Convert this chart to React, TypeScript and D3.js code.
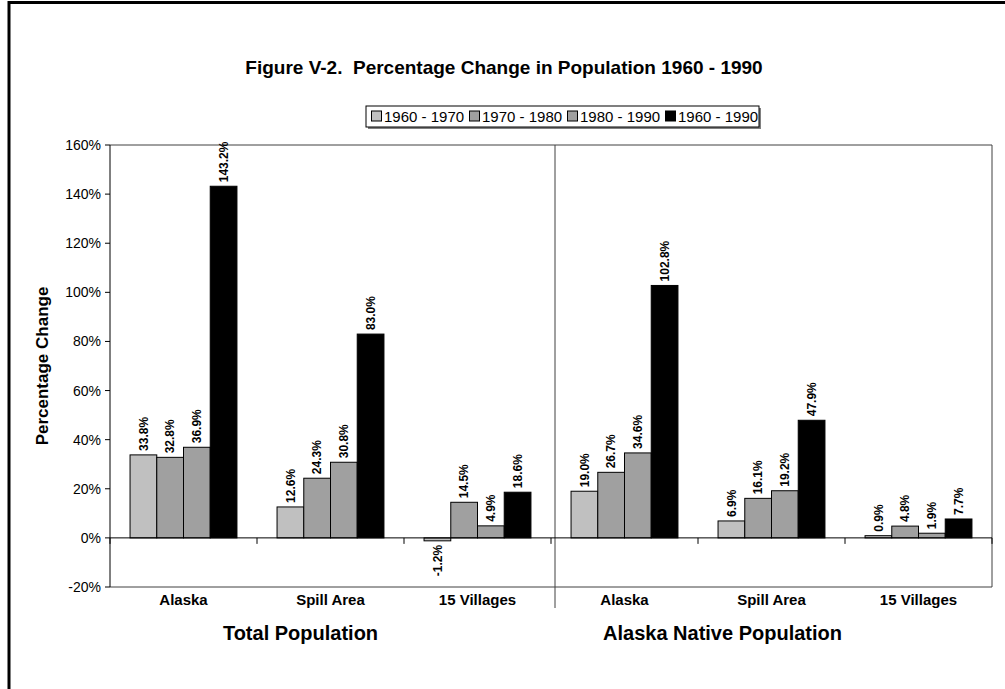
import React from "react";
import * as d3 from "d3";

const groups = ["Total Population", "Alaska Native Population"];
const places = ["Alaska", "Spill Area", "15 Villages"];
const series = ["1960 - 1970", "1970 - 1980", "1980 - 1990", "1960 - 1990"];
const seriesColors = ["#C0C0C0", "#A0A0A0", "#A0A0A0", "#000000"];
// values in percent, per category (group x place), per series
const totalAlaska = [33.8, 32.8, 36.9, 143.2];
const totalSpill = [12.6, 24.3, 30.8, 83.0];
const totalVillages = [-1.2, 14.5, 4.9, 18.6];
const nativeAlaska = [19.0, 26.7, 34.6, 102.8];
const nativeSpill = [6.9, 16.1, 19.2, 47.9];
const nativeVillages = [0.9, 4.8, 1.9, 7.7];
const yTicks = [-0.2, 0, 0.2, 0.4, 0.6, 0.8, 1.0, 1.2, 1.4, 1.6];

const categoryValues = [totalAlaska, totalSpill, totalVillages, nativeAlaska, nativeSpill, nativeVillages];
const categories = categoryValues.map((vals, i) => ({
  id: `c${i}`,
  label: places[i % 3],
  group: groups[Math.floor(i / 3)],
  values: vals,
}));

const FONT = "'Liberation Sans', Arial, Helvetica, sans-serif";

export default function App() {
  const W = 1005, H = 689;
  const left = 110, right = 992, top = 145, bottom = 587;
  const x0 = d3.scaleBand<string>().domain(categories.map((c) => c.id)).range([left, right]).paddingInner(0).paddingOuter(0);
  const x1 = d3.scaleBand<string>().domain(series).range([0, x0.bandwidth()]).paddingInner(0).paddingOuter(0.75);
  const y = d3.scaleLinear().domain([-0.2, 1.6]).range([bottom, top]);
  const fmtTick = (t: number) => `${Math.round(t * 100)}%`;
  const fmtVal = (v: number) => `${v.toFixed(1)}%`;
  const y0 = y(0);
  const divX = 555;
  const boundaries = d3.range(categories.length + 1).map((i) => left + i * x0.step());

  const legendX = 366, legendY = 106, legendW = 393, legendH = 21;
  const itemStep = 98;

  return (
    <svg width={W} height={H} style={{ position: "absolute", left: 0, top: 0, background: "#fff" }} fontFamily={FONT}>
      <rect x={0} y={0} width={W} height={H} fill="#fff" />
      {/* outer frame */}
      <rect x={9} y={2.5} width={1200} height={900} fill="none" stroke="#000" strokeWidth={3} />

      {/* title */}
      <text x={504} y={74} textAnchor="middle" fontSize={19} fontWeight="bold" style={{ whiteSpace: "pre" }}>
        {"Figure V-2.  Percentage Change in Population 1960 - 1990"}
      </text>

      {/* legend */}
      <rect x={legendX + 2} y={legendY + 2} width={legendW} height={legendH} fill="#808080" />
      <rect x={legendX} y={legendY} width={legendW} height={legendH} fill="#fff" stroke="#000" strokeWidth={1} />
      {series.map((s, i) => (
        <g key={s} transform={`translate(${legendX + 5 + i * itemStep},${legendY + legendH / 2})`}>
          <rect x={0.5} y={-5.5} width={10} height={10} fill={seriesColors[i]} stroke="#000" strokeWidth={1} />
          <text x={13} y={0} dy="0.36em" fontSize={15}>{s}</text>
        </g>
      ))}

      {/* plot frame */}
      <line x1={left} x2={right} y1={top} y2={top} stroke="#404040" />
      <line x1={right} x2={right} y1={top} y2={bottom} stroke="#404040" />
      <line x1={left} x2={right} y1={bottom} y2={bottom} stroke="#404040" />
      <line x1={divX} x2={divX} y1={top} y2={608} stroke="#404040" />

      {/* y axis */}
      <line x1={left} x2={left} y1={top} y2={bottom} stroke="#000" />
      {yTicks.map((t) => (
        <g key={t}>
          <line x1={left - 5} x2={left} y1={y(t)} y2={y(t)} stroke="#000" />
          <text x={left - 9} y={y(t)} dy="0.36em" textAnchor="end" fontSize={14}>{fmtTick(t)}</text>
        </g>
      ))}
      <text transform={`translate(42,${(top + bottom) / 2}) rotate(-90)`} textAnchor="middle" dy="0.36em" fontSize={17} fontWeight="bold">
        Percentage Change
      </text>

      {/* bars */}
      {categories.map((c) => (
        <g key={c.id} transform={`translate(${x0(c.id)},0)`}>
          {c.values.map((v, i) => {
            const vv = v / 100;
            const bx = x1(series[i])!;
            const by = Math.min(y(vv), y0);
            const bh = Math.abs(y(vv) - y0);
            return (
              <rect key={i} x={bx} y={by} width={x1.bandwidth()} height={bh} fill={seriesColors[i]} stroke="#000" strokeWidth={1} />
            );
          })}
        </g>
      ))}

      {/* zero line and category ticks */}
      <line x1={left} x2={right} y1={y0} y2={y0} stroke="#000" />
      {boundaries.map((bx, i) => (
        <line key={i} x1={bx} x2={bx} y1={y0} y2={y0 + 6} stroke="#000" />
      ))}

      {/* data labels */}
      {categories.map((c) => (
        <g key={c.id + "l"} transform={`translate(${x0(c.id)},0)`}>
          {c.values.map((v, i) => {
            const vv = v / 100;
            const cx = x1(series[i])! + x1.bandwidth() / 2;
            const ty = vv >= 0 ? y(vv) - 4 : y(vv) + 4;
            return (
              <text key={i} transform={`translate(${cx},${ty}) rotate(-90)`} textAnchor={vv >= 0 ? "start" : "end"} dy="0.36em" fontSize={12} fontWeight="bold">
                {fmtVal(v)}
              </text>
            );
          })}
        </g>
      ))}

      {/* category labels */}
      {categories.map((c) => (
        <text key={c.id + "c"} x={x0(c.id)! + x0.bandwidth() / 2} y={600} dy="0.36em" textAnchor="middle" fontSize={15} fontWeight="bold">
          {c.label}
        </text>
      ))}
      {groups.map((g) => {
        const cs = categories.filter((c) => c.group === g);
        const gx0 = x0(cs[0].id)!;
        const gx1 = x0(cs[cs.length - 1].id)! + x0.bandwidth();
        const shift = g === groups[0] ? -30 : -49;
        return (
          <text key={g} x={(gx0 + gx1) / 2 + shift} y={633} dy="0.36em" textAnchor="middle" fontSize={20} fontWeight="bold">
            {g}
          </text>
        );
      })}
    </svg>
  );
}
